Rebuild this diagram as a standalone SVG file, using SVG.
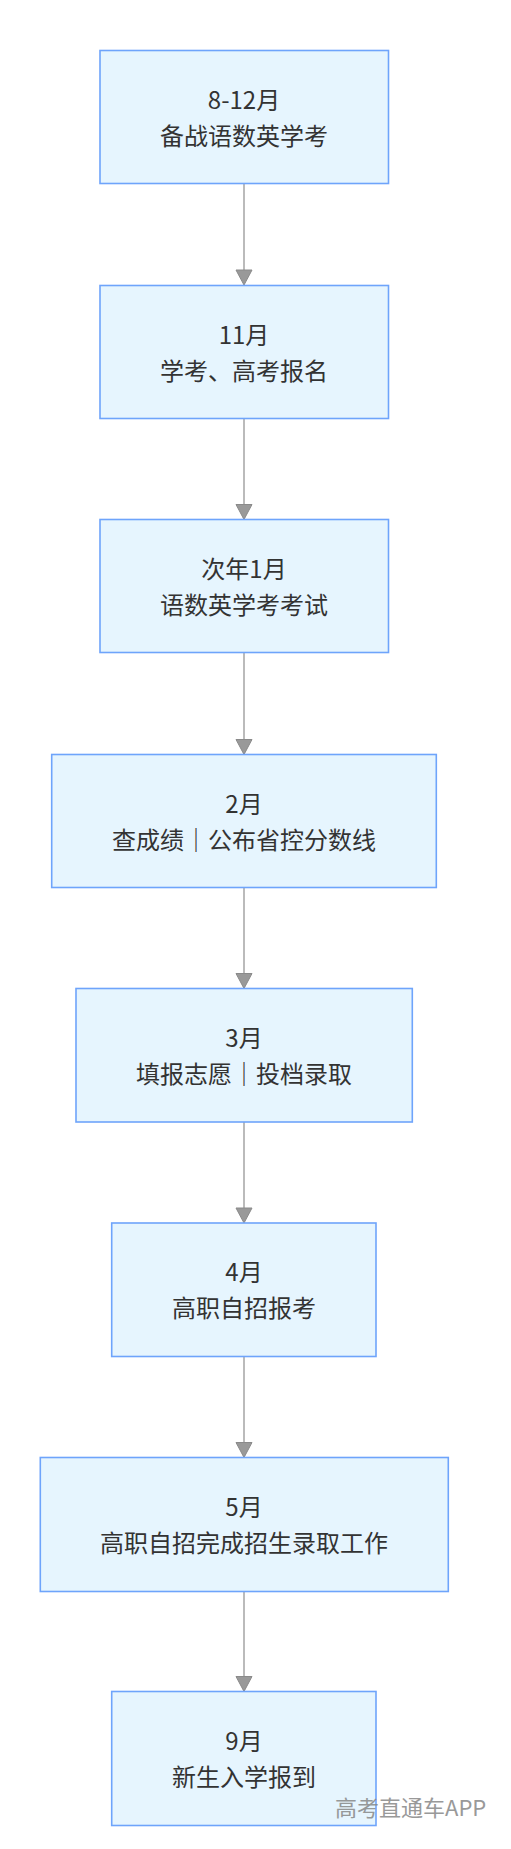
<svg xmlns="http://www.w3.org/2000/svg" width="511" height="1849" viewBox="0 0 511 1849">
<style>
.box{fill:#e6f5fe;stroke:#6ea4fb;stroke-width:1.6}
.t{font-family:"Noto Sans CJK SC","Noto Sans",sans-serif;font-size:24px;fill:#333;text-anchor:middle}
.edge{stroke:#aaaaaa;stroke-width:1.6;fill:none}
.head{fill:#999;stroke:#8a8a8a;stroke-width:1}
.wm{font-family:"Noto Sans CJK SC","Noto Sans",sans-serif;font-size:22px;fill:#888;opacity:0.85}
</style>
<rect width="511" height="1849" fill="#fff"/>
<g id="connectors">
<line class="edge" x1="244" y1="184" x2="244" y2="280"/>
<polygon class="head" points="236,270 252,270 244,285"/>
<line class="edge" x1="244" y1="419" x2="244" y2="514"/>
<polygon class="head" points="236,504.5 252,504.5 244,519.5"/>
<line class="edge" x1="244" y1="653" x2="244" y2="749"/>
<polygon class="head" points="236,739.5 252,739.5 244,754.5"/>
<line class="edge" x1="244" y1="887" x2="244" y2="983"/>
<polygon class="head" points="236,973.5 252,973.5 244,988.5"/>
<line class="edge" x1="244" y1="1122" x2="244" y2="1218"/>
<polygon class="head" points="236,1208 252,1208 244,1223"/>
<line class="edge" x1="244" y1="1356.5" x2="244" y2="1452"/>
<polygon class="head" points="236,1442.5 252,1442.5 244,1457.5"/>
<line class="edge" x1="244" y1="1591" x2="244" y2="1686"/>
<polygon class="head" points="236,1676.5 252,1676.5 244,1691.5"/>
</g>
<g id="n1">
<rect class="box" x="100" y="50.5" width="288.5" height="133"/>
<text class="t" x="244" y="108.5">8-12月</text>
<text class="t" x="244" y="144.5">备战语数英学考</text>
</g>
<g id="n2">
<rect class="box" x="100" y="285.5" width="288.5" height="133"/>
<text class="t" x="244" y="343.5">11月</text>
<text class="t" x="244" y="379.5">学考、高考报名</text>
</g>
<g id="n3">
<rect class="box" x="100" y="519.5" width="288.5" height="133"/>
<text class="t" x="244" y="577.5">次年1月</text>
<text class="t" x="244" y="613.5">语数英学考考试</text>
</g>
<g id="n4">
<rect class="box" x="51.7" y="754.5" width="384.6" height="133"/>
<text class="t" x="244" y="812.5">2月</text>
<text class="t" x="244" y="848.5">查成绩｜公布省控分数线</text>
</g>
<g id="n5">
<rect class="box" x="76" y="988.5" width="336.3" height="133.5"/>
<text class="t" x="244" y="1046.5">3月</text>
<text class="t" x="244" y="1082.5">填报志愿｜投档录取</text>
</g>
<g id="n6">
<rect class="box" x="111.7" y="1223" width="264.3" height="133.5"/>
<text class="t" x="244" y="1281">4月</text>
<text class="t" x="244" y="1317">高职自招报考</text>
</g>
<g id="n7">
<rect class="box" x="40.3" y="1457.5" width="408" height="134"/>
<text class="t" x="244" y="1515.5">5月</text>
<text class="t" x="244" y="1551.5">高职自招完成招生录取工作</text>
</g>
<g id="n8">
<rect class="box" x="111.7" y="1691.5" width="264.3" height="134"/>
<text class="t" x="244" y="1749.5">9月</text>
<text class="t" x="244" y="1785.5">新生入学报到</text>
</g>
<text class="wm" x="335" y="1816">高考直通车APP</text>
</svg>
